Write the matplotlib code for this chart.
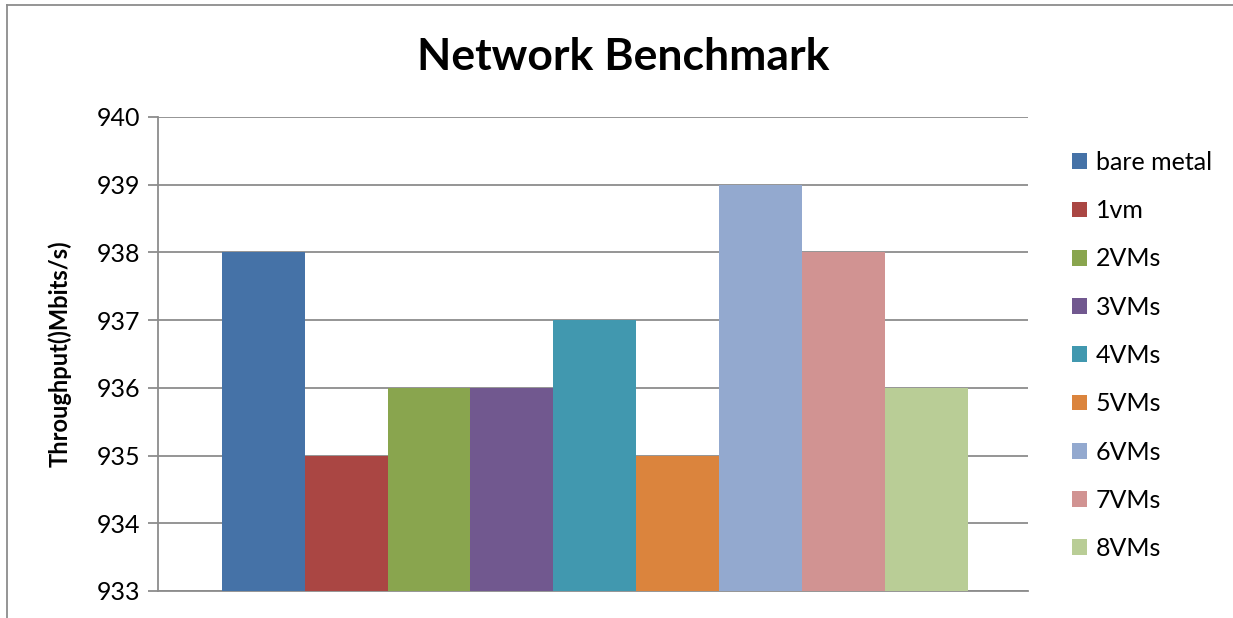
import matplotlib
matplotlib.use("Agg")
import matplotlib.pyplot as plt
from matplotlib.lines import Line2D

plt.rcParams["font.family"] = ["Lato", "DejaVu Sans"]

series = ["bare metal", "1vm", "2VMs", "3VMs", "4VMs", "5VMs", "6VMs", "7VMs", "8VMs"]
throughput = [938, 935, 936, 936, 937, 935, 939, 938, 936]
colors = ["#4572A7", "#AA4643", "#89A54E", "#71588F", "#4198AF",
          "#DB843D", "#93A9CF", "#D19392", "#B9CD96"]
yticks = [933, 934, 935, 936, 937, 938, 939, 940]

W, H = 1233, 618
fig = plt.figure(figsize=(W / 100, H / 100), dpi=100)
ax = fig.add_axes([158 / W, 1 - 591 / H, (1028 - 158) / W, (591 - 117) / H])

for i, (name, val, col) in enumerate(zip(series, throughput, colors)):
    ax.bar(i, val - yticks[0], bottom=yticks[0], width=1.0, color=col, label=name, zorder=3)

ax.set_ylim(yticks[0], yticks[-1])
ax.set_xlim(-1.27, 9.23)
ax.set_yticks(yticks)
ax.set_xticks([])
ax.yaxis.grid(True, color="#8c8c8c", linewidth=1.3, zorder=0)
for side in ("top", "right"):
    ax.spines[side].set_visible(False)
for side in ("left", "bottom"):
    ax.spines[side].set_color("#8c8c8c")
    ax.spines[side].set_linewidth(1.3)
ax.tick_params(axis="y", direction="out", length=7, width=1.3, color="#8c8c8c",
               labelsize=18, pad=6)

ax.set_ylabel("Throughput()Mbits/s)", fontsize=17, fontweight="bold")
ax.yaxis.set_label_coords((72 - 158) / (1028 - 158), 0.5)
fig.text(623 / W, 1 - 57 / H, "Network Benchmark", fontsize=32, fontweight="bold",
         ha="center", va="center")

handles, labels = ax.get_legend_handles_labels()
fig.legend(handles, labels, loc="upper left", bbox_to_anchor=(1062 / W, 1 - 141 / H),
           frameon=False, fontsize=18, handlelength=0.6, handleheight=0.6,
           handletextpad=0.35, labelspacing=1.01, borderaxespad=0)

# chart-area border along the top and left edges
fig.add_artist(Line2D([7 / W, 1], [1 - 5 / H, 1 - 5 / H], color="#8c8c8c", linewidth=1.3))
fig.add_artist(Line2D([7 / W, 7 / W], [0, 1 - 5 / H], color="#8c8c8c", linewidth=1.3))

fig.savefig("out.png", dpi=100)
